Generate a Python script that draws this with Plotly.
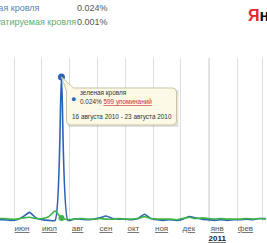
import pandas as pd
import plotly.graph_objects as go

# ---- data ----
weeks = list(pd.date_range("2010-05-14", "2011-03-04", freq="7D"))
series_names = ["Зеленая кровля", "Эксплуатируемая кровля"]
green_roof = [0.0007, 0.0007, 0.0006, 0.0007, 0.0012, 0.0019, 0.0010, 0.0007, 0.0006, 0.0006,
              0.024, 0.0006, 0.0008, 0.0008, 0.0007, 0.0008, 0.0010, 0.0013, 0.0009, 0.0008,
              0.0008, 0.0007, 0.0009, 0.0016, 0.0009, 0.0007, 0.0006, 0.0007, 0.0006, 0.0008,
              0.0012, 0.0010, 0.0008, 0.0007, 0.0006, 0.0007, 0.0006, 0.0007, 0.0007, 0.0008,
              0.0007, 0.0009, 0.0009]
used_roof = [0.0009, 0.0009, 0.0008, 0.0008, 0.0010, 0.0011, 0.0009, 0.0009, 0.0012, 0.0021,
             0.0010, 0.0007, 0.0008, 0.0009, 0.0008, 0.0008, 0.0009, 0.0008, 0.0008, 0.0009,
             0.0008, 0.0008, 0.0009, 0.0012, 0.0009, 0.0008, 0.0008, 0.0008, 0.0007, 0.0009,
             0.0011, 0.0009, 0.0010, 0.0009, 0.0008, 0.0009, 0.0008, 0.0008, 0.0008, 0.0009,
             0.0008, 0.0009, 0.0008]
hover_index = 10
legend_values = ["0.024%", "0.001%"]
tooltip_title = "зеленая кровля"
tooltip_value = "0.024%"
tooltip_link = "599 упоминаний"
tooltip_period = "16 августа 2010 - 23 августа 2010"
month_ticks = ["2010-06-01", "2010-07-01", "2010-08-01", "2010-09-01", "2010-10-01",
               "2010-11-01", "2010-12-01", "2011-01-01", "2011-02-01", "2011-03-01"]
month_labels = ["июн", "июл", "авг", "сен", "окт", "ноя", "дек", "янв", "фев", "мар"]
year_label = "2011"

BLUE = "#2a64b4"
GREEN = "#3fb34a"
FONT = "Liberation Sans, Arial, sans-serif"

W, H = 267, 243
MT, MB = 58, 21
plot_h = H - MT - MB


def py(pix):
    return (H - MB - pix) / plot_h


ticktext = []
for lab in month_labels:
    t = f'<span style="text-decoration:underline">{lab}</span>'
    if lab == "янв":
        t += f'<br><span style="text-decoration:underline;color:#222"><b>{year_label}</b></span>'
    ticktext.append(t)

fig = go.Figure()
fig.add_trace(go.Scatter(x=weeks, y=green_roof, mode="lines", name=series_names[0],
                         line=dict(color=BLUE, width=1.6, shape="spline", smoothing=0.6)))
fig.add_trace(go.Scatter(x=weeks, y=used_roof, mode="lines", name=series_names[1],
                         line=dict(color=GREEN, width=1.6, shape="spline", smoothing=0.6)))
fig.add_trace(go.Scatter(x=[weeks[hover_index]], y=[used_roof[hover_index]], mode="markers",
                         marker=dict(color=GREEN, size=6), showlegend=False))
fig.add_trace(go.Scatter(x=[weeks[hover_index]], y=[green_roof[hover_index]], mode="markers",
                         marker=dict(color=BLUE, size=7), showlegend=False))

# year boundary gridline
fig.add_vline(x="2011-01-01", line=dict(color="#b0b0b0", width=1), layer="below")

# tooltip box with pointer, anchored at the hovered point
px_ = weeks[hover_index]
py_ = green_roof[hover_index]
box = ("M 0 0 L 12 -11 L 111 -11 Q 115 -11 115 -15 L 115 -44 Q 115 -48 111 -48 "
       "L 9 -48 Q 5 -48 5 -44 L 5 -14 Z")
shadow = ("M 7 -13 L 117 -13 L 117 -50 L 7 -50 Z")
fig.add_shape(type="path", path=shadow, xref="x", yref="y", xsizemode="pixel", ysizemode="pixel",
              xanchor=px_, yanchor=py_, fillcolor="rgba(0,0,0,0.12)", line=dict(width=0))
fig.add_shape(type="path", path=box, xref="x", yref="y", xsizemode="pixel", ysizemode="pixel",
              xanchor=px_, yanchor=py_, fillcolor="#fcf9e6", line=dict(color="#cbc3a0", width=1))

tfont = dict(family=FONT, size=6.4, color="#333")
fig.add_annotation(x=px_, y=py_, xref="x", yref="y", text="●", showarrow=False,
                   xanchor="center", yanchor="middle", xshift=12, yshift=-22,
                   font=dict(family=FONT, size=9, color=BLUE))
fig.add_annotation(x=px_, y=py_, xref="x", yref="y", text=tooltip_title, showarrow=False,
                   xanchor="left", yanchor="middle", xshift=17, yshift=-16, font=tfont)
fig.add_annotation(x=px_, y=py_, xref="x", yref="y",
                   text=f'{tooltip_value} <span style="color:#c83232;text-decoration:underline">{tooltip_link}</span>',
                   showarrow=False, xanchor="left", yanchor="middle", xshift=17, yshift=-25, font=tfont)
fig.add_annotation(x=px_, y=py_, xref="x", yref="y", text=tooltip_period, showarrow=False,
                   xanchor="left", yanchor="middle", xshift=9, yshift=-40, font=tfont)

# header legend (the page crops it on the left, as in the reference)
lfont = 9
fig.add_annotation(x=42 / W, y=py(8), xref="paper", yref="paper", text=series_names[0],
                   showarrow=False, xanchor="right", yanchor="middle",
                   font=dict(family=FONT, size=lfont, color="#5b82b3"))
fig.add_annotation(x=110 / W, y=py(8), xref="paper", yref="paper", text=legend_values[0],
                   showarrow=False, xanchor="right", yanchor="middle",
                   font=dict(family=FONT, size=lfont, color="#555"))
fig.add_annotation(x=78 / W, y=py(22), xref="paper", yref="paper", text=series_names[1],
                   showarrow=False, xanchor="right", yanchor="middle",
                   font=dict(family=FONT, size=lfont, color="#62ad73"))
fig.add_annotation(x=110 / W, y=py(22), xref="paper", yref="paper", text=legend_values[1],
                   showarrow=False, xanchor="right", yanchor="middle",
                   font=dict(family=FONT, size=lfont, color="#555"))
fig.add_annotation(x=246 / W, y=py(15), xref="paper", yref="paper",
                   text='<b><span style="color:#e0262b">Я</span>ндекс</b>',
                   showarrow=False, xanchor="left", yanchor="middle",
                   font=dict(family=FONT, size=16, color="#111"))

fig.update_layout(
    width=W, height=H,
    margin=dict(l=0, r=0, t=MT, b=MB, pad=0),
    paper_bgcolor="white", plot_bgcolor="white",
    showlegend=False,
    xaxis=dict(type="date", range=["2010-05-16 14:00", "2011-03-05 10:00"],
               tickvals=month_ticks, ticktext=ticktext, ticklabelshift=8,
               showgrid=True, gridcolor="#dedede", gridwidth=1,
               zeroline=False, showline=False, ticks="",
               tickfont=dict(family=FONT, size=8, color="#555")),
    yaxis=dict(range=[0.00033, 0.0271], visible=False, showgrid=False, zeroline=False),
)
fig.write_html("out.html")
